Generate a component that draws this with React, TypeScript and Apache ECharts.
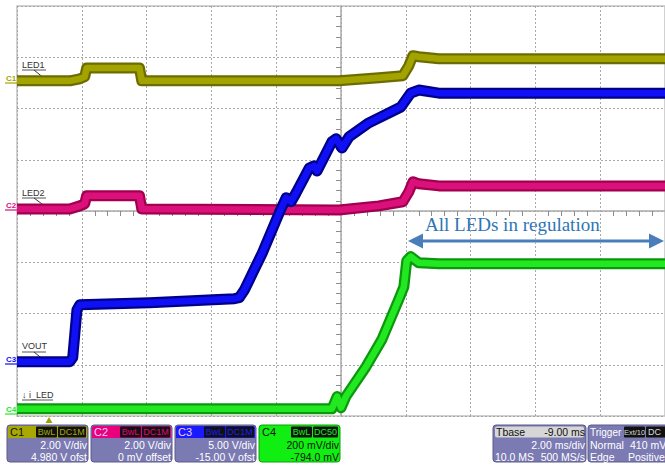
import React, { useEffect, useRef } from "react";
import * as echarts from "echarts";

// time in ms (screen centre = 0, 2 ms/div), level in screen divisions (centre = 0)
const led1Time = [-10, -8.37, -8.06, -7.91, -7.85, -6.22, -6.15, -0.06, 1.17, 1.91, 2.09, 2.22, 2.4, 3.02, 10];
const led1Div = [2.54, 2.54, 2.58, 2.62, 2.79, 2.79, 2.54, 2.54, 2.6, 2.64, 2.83, 3.03, 3.01, 2.97, 2.97];

const led2Time = [-10, -8.37, -8.06, -7.91, -7.85, -6.22, -6.15, -0.06, 1.17, 1.91, 2.09, 2.22, 2.4, 3.02, 10];
const led2Div = [0.04, 0.04, 0.1, 0.14, 0.3, 0.3, 0.04, 0.02, 0.1, 0.18, 0.37, 0.57, 0.53, 0.49, 0.49];

const voutTime = [-10, -8.37, -8.28, -8.15, -8.06, -5.91, -3.29, -3.14, -2.98, -2.43, -1.91, -1.69, -1.54, -1.38, -0.98, -0.83, -0.74, -0.28, -0.15, 0.03, 0.25, 0.86, 1.85, 2.15, 2.4, 3.02, 10];
const voutDiv = [-2.94, -2.94, -2.86, -1.93, -1.83, -1.79, -1.71, -1.69, -1.54, -0.82, -0.04, 0.26, 0.18, 0.36, 0.84, 0.88, 0.78, 1.35, 1.41, 1.23, 1.45, 1.72, 2.03, 2.3, 2.36, 2.3, 2.3];

const iledTime = [-10, -0.28, -0.12, 0, 0.15, 0.77, 1.26, 1.78, 1.94, 2.03, 2.15, 2.4, 3.02, 10];
const iledDiv = [-3.86, -3.86, -3.62, -3.84, -3.62, -3.04, -2.51, -1.73, -1.48, -0.97, -0.89, -1.01, -1.03, -1.03];

const channelNames = ["C1", "C2", "C3", "C4"];
const channelScale = ["2.00 V/div", "2.00 V/div", "5.00 V/div", "200 mV/div"];
const channelOffset = ["4.980 V ofst", "0 mV offset", "-15.00 V ofst", "-794.0 mV"];
const channelCoupling = ["DC1M", "DC1M", "DC1M", "DC50"];
const traceLabels = ["LED1", "LED2", "VOUT", "↓ i_LED"];

const outerColors = ["#6c6c00", "#a0004f", "#00008a", "#0c980c"];
const innerColors = ["#a3a300", "#dc107a", "#1010f6", "#22e822"];
const headerColors = ["#a8a800", "#e8007c", "#1a1aff", "#11ee11"];

const zip = (t: number[], v: number[]) => t.map((x, i) => [x, v[i]]);

const SANS = '"Liberation Sans", Arial, sans-serif';

function buildGraphic() {
  const g: any[] = [];
  // trace labels with pointer lines
  const lab = [
    { x: 22, y: 65, ul: 70, px: 50, py: 83 },
    { x: 22, y: 193, ul: 198, px: 50, py: 210 },
    { x: 22, y: 346, ul: 352, px: 50, py: 365 },
    { x: 22, y: 395, ul: 400, px: 0, py: 0 },
  ];
  lab.forEach((l, i) => {
    g.push({ type: "text", x: l.x, y: l.y, style: { text: traceLabels[i], fill: "#333", font: "9px " + SANS, textVerticalAlign: "middle" } });
    g.push({ type: "line", shape: { x1: l.x, y1: l.ul, x2: l.x + (i === 3 ? 31 : 24), y2: l.ul }, style: { stroke: "#555", lineWidth: 1 } });
    if (l.px) g.push({ type: "line", shape: { x1: l.x + 12, y1: l.ul, x2: l.px, y2: l.py }, style: { stroke: "#333", lineWidth: 1 } });
  });
  // channel ground markers
  const gy = [78, 205, 359, 409];
  gy.forEach((y, i) => {
    g.push({ type: "text", x: 6, y: y, style: { text: channelNames[i], fill: innerColors[i], font: "bold 8px " + SANS, textVerticalAlign: "middle" } });
    g.push({ type: "line", shape: { x1: 5, y1: y + 5, x2: 17, y2: y + 5 }, style: { stroke: innerColors[i], lineWidth: 1.2 } });
  });
  // trigger marker
  g.push({ type: "polygon", shape: { points: [[49, 417], [45.5, 423], [52.5, 423]] }, style: { fill: "#a0a000" } });

  // annotation
  g.push({ type: "text", x: 425, y: 224, style: { text: "All LEDs in regulation", fill: "#2e75b6", font: '19px "Liberation Serif", "Times New Roman", serif', textVerticalAlign: "middle" } });
  g.push({ type: "line", shape: { x1: 418, y1: 241, x2: 655, y2: 241 }, style: { stroke: "#4a7ebb", lineWidth: 3 } });
  g.push({ type: "polygon", shape: { points: [[408, 241], [423, 233.5], [423, 248.5]] }, style: { fill: "#4a7ebb" } });
  g.push({ type: "polygon", shape: { points: [[664, 241], [649, 233.5], [649, 248.5]] }, style: { fill: "#4a7ebb" } });

  // channel boxes
  const bx = [7, 91, 175, 259];
  const top = 425;
  bx.forEach((x0, i) => {
    const w = 81;
    const green = i === 3;
    g.push({ type: "rect", shape: { x: x0, y: top, width: w, height: 37, r: 3 }, style: { fill: green ? "#11ee11" : "#7b7ab2", stroke: green ? "#0aa00a" : "#5a5a8c", lineWidth: 1 } });
    g.push({ type: "rect", shape: { x: x0 + 1, y: top + 1, width: w - 2, height: 12, r: [2, 2, 0, 0] }, style: { fill: headerColors[i] } });
    g.push({ type: "text", x: x0 + 3, y: top + 7, style: { text: channelNames[i], fill: i === 0 || green ? "#111" : "#f0d0ff", font: "11px " + SANS, textVerticalAlign: "middle" } });
    const cw = channelCoupling[i] === "DC50" ? 25 : 28;
    g.push({ type: "rect", shape: { x: x0 + w - cw - 24, y: top + 1.5, width: 21, height: 11, r: 1 }, style: { fill: "#111" } });
    g.push({ type: "text", x: x0 + w - cw - 13.5, y: top + 7, style: { text: "BwL", fill: headerColors[i], font: "9px " + SANS, textAlign: "center", textVerticalAlign: "middle" } });
    g.push({ type: "rect", shape: { x: x0 + w - cw - 2, y: top + 1.5, width: cw, height: 11, r: 1 }, style: { fill: "#111" } });
    g.push({ type: "text", x: x0 + w - cw / 2 - 2, y: top + 7, style: { text: channelCoupling[i], fill: headerColors[i], font: "9px " + SANS, textAlign: "center", textVerticalAlign: "middle" } });
    g.push({ type: "text", x: x0 + w - 1, y: top + 20, style: { text: channelScale[i], fill: green ? "#111" : "#fff", font: "10.5px " + SANS, textAlign: "right", textVerticalAlign: "middle" } });
    g.push({ type: "text", x: x0 + w - 1, y: top + 32, style: { text: channelOffset[i], fill: green ? "#111" : "#fff", font: "10.5px " + SANS, textAlign: "right", textVerticalAlign: "middle" } });
  });

  // timebase box
  const tx = 493, tw = 93;
  g.push({ type: "rect", shape: { x: tx, y: top, width: tw, height: 37, r: 3 }, style: { fill: "#7b7ab2", stroke: "#5a5a8c", lineWidth: 1 } });
  g.push({ type: "rect", shape: { x: tx + 2, y: top + 1.5, width: tw - 4, height: 11, r: 2 }, style: { fill: "#d6d6d6" } });
  g.push({ type: "text", x: tx + 3, y: top + 7, style: { text: "Tbase", fill: "#111", font: "10.5px " + SANS, textVerticalAlign: "middle" } });
  g.push({ type: "text", x: tx + tw - 1, y: top + 7, style: { text: "-9.00 ms", fill: "#111", font: "10.5px " + SANS, textAlign: "right", textVerticalAlign: "middle" } });
  g.push({ type: "text", x: tx + tw - 1, y: top + 20, style: { text: "2.00 ms/div", fill: "#fff", font: "10.5px " + SANS, textAlign: "right", textVerticalAlign: "middle" } });
  g.push({ type: "text", x: tx + 2, y: top + 32, style: { text: "10.0 MS", fill: "#fff", font: "10.5px " + SANS, textVerticalAlign: "middle" } });
  g.push({ type: "text", x: tx + tw - 1, y: top + 32, style: { text: "500 MS/s", fill: "#fff", font: "10.5px " + SANS, textAlign: "right", textVerticalAlign: "middle" } });

  // trigger box
  const rx = 588, rw = 100;
  g.push({ type: "rect", shape: { x: rx, y: top, width: rw, height: 37, r: 3 }, style: { fill: "#7b7ab2", stroke: "#5a5a8c", lineWidth: 1 } });
  g.push({ type: "text", x: rx + 2, y: top + 7, style: { text: "Trigger", fill: "#fff", font: "10px " + SANS, textVerticalAlign: "middle" } });
  g.push({ type: "rect", shape: { x: 624, y: top + 1.5, width: 21, height: 11, r: 1 }, style: { fill: "#111" } });
  g.push({ type: "text", x: 634.5, y: top + 7, style: { text: "Ext/10", fill: "#ddd", font: "7.5px " + SANS, textAlign: "center", textVerticalAlign: "middle" } });
  g.push({ type: "rect", shape: { x: 646, y: top + 1.5, width: 30, height: 11, r: 1 }, style: { fill: "#111" } });
  g.push({ type: "text", x: 648, y: top + 7, style: { text: "DC", fill: "#ddd", font: "9px " + SANS, textVerticalAlign: "middle" } });
  g.push({ type: "text", x: rx + 2, y: top + 20, style: { text: "Normal", fill: "#fff", font: "10.5px " + SANS, textVerticalAlign: "middle" } });
  g.push({ type: "text", x: 630, y: top + 20, style: { text: "410 mV", fill: "#fff", font: "10.5px " + SANS, textVerticalAlign: "middle" } });
  g.push({ type: "text", x: rx + 2, y: top + 32, style: { text: "Edge", fill: "#fff", font: "10.5px " + SANS, textVerticalAlign: "middle" } });
  g.push({ type: "text", x: 628, y: top + 32, style: { text: "Positive", fill: "#fff", font: "10.5px " + SANS, textVerticalAlign: "middle" } });
  return g;
}

export default function App() {
  const ref = useRef<HTMLDivElement>(null);
  useEffect(() => {
    if (!ref.current) return;
    const chart = echarts.init(ref.current, undefined, { renderer: "svg" });
    const traces = [zip(led1Time, led1Div), zip(led2Time, led2Div), zip(voutTime, voutDiv), zip(iledTime, iledDiv)];
    const order = [0, 1, 3, 2];
    const series: any[] = [];
    order.forEach((i) => {
      series.push({ type: "line", data: traces[i], showSymbol: false, silent: true, lineStyle: { color: outerColors[i], width: 11, join: "round", cap: "butt" } });
      series.push({ type: "line", data: traces[i], showSymbol: false, silent: true, lineStyle: { color: innerColors[i], width: 6.5, join: "round", cap: "butt" } });
    });
    const axisCommon = {
      axisLabel: { show: false },
      axisTick: { show: false },
      axisLine: { show: true, onZero: true, lineStyle: { color: "#aaaaaa", width: 1.5 } },
      minorTick: { show: true, splitNumber: 5, length: 5, lineStyle: { color: "#8c8c8c", width: 1 } },
      splitLine: { show: true, lineStyle: { type: [2, 2], color: "#a8a8a8", width: 1 } },
    };
    chart.setOption({
      animation: false,
      backgroundColor: "#ffffff",
      grid: { left: 17, top: 6, width: 650, height: 410, show: true, borderColor: "#c2c2c2", borderWidth: 1.5, backgroundColor: "#ffffff" },
      xAxis: { type: "value", min: -10, max: 10, interval: 2, ...axisCommon },
      yAxis: { type: "value", min: -4, max: 4, interval: 1, ...axisCommon },
      series,
      graphic: buildGraphic(),
    });
    return () => chart.dispose();
  }, []);
  return <div ref={ref} style={{ position: "absolute", left: 0, top: 0, width: 665, height: 465 }} />;
}
